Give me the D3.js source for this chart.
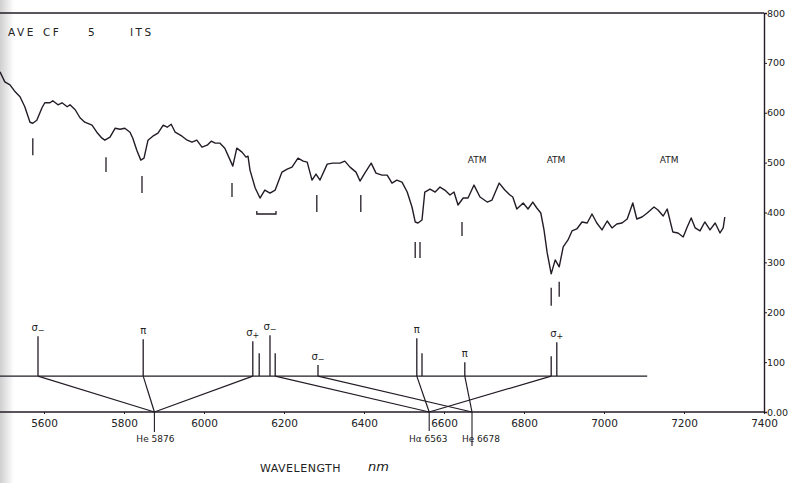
<!DOCTYPE html>
<html>
<head>
<meta charset="utf-8">
<script src="https://cdn.jsdelivr.net/npm/d3@7"></script>
<style>
  body { margin: 0; background: #fff; }
  svg text { font-family: "DejaVu Sans", sans-serif; fill: #222; }
</style>
</head>
<body>
<div id="chart"></div>
<script>
// spectrum trace (wavelength in A, intensity in chart units)
const wavelength = [5490, 5502, 5515, 5528, 5540, 5552, 5565, 5572, 5582, 5595, 5602, 5615, 5622, 5635, 5645, 5658, 5665, 5678, 5690, 5702,
  5720, 5732, 5745, 5752, 5765, 5778, 5790, 5802, 5815, 5822, 5832, 5842, 5850, 5860, 5872, 5885, 5898, 5908, 5918, 5928,
  5945, 5958, 5970, 5982, 5995, 6008, 6018, 6028, 6040, 6052, 6062, 6072, 6082, 6095, 6105, 6110, 6115, 6128, 6140, 6152,
  6165, 6178, 6195, 6208, 6220, 6235, 6248, 6258, 6270, 6280, 6290, 6308, 6322, 6340, 6352, 6365, 6380, 6390, 6402, 6418,
  6430, 6445, 6458, 6470, 6482, 6495, 6508, 6520, 6528, 6535, 6545, 6552, 6565, 6578, 6590, 6602, 6615, 6625, 6635, 6648,
  6660, 6675, 6690, 6708, 6720, 6738, 6752, 6765, 6772, 6782, 6798, 6810, 6822, 6832, 6842, 6850, 6858, 6868, 6878, 6888,
  6898, 6910, 6920, 6932, 6945, 6958, 6970, 6982, 6995, 7008, 7020, 7032, 7045, 7058, 7072, 7082, 7095, 7108, 7125, 7135,
  7148, 7158, 7172, 7185, 7198, 7208, 7218, 7228, 7240, 7252, 7265, 7278, 7290, 7298, 7302];
const intensity = [682, 662, 656, 642, 632, 612, 581, 579, 585, 610, 620, 620, 624, 616, 620, 612, 616, 606, 590, 581,
  575, 561, 549, 545, 551, 569, 567, 569, 561, 549, 525, 505, 509, 545, 553, 559, 575, 571, 577, 561,
  553, 545, 541, 545, 531, 535, 543, 539, 539, 529, 511, 493, 529, 521, 511, 513, 485, 449, 429, 445,
  439, 445, 481, 487, 491, 509, 503, 501, 465, 477, 465, 497, 499, 499, 503, 491, 481, 463, 479, 499,
  479, 475, 475, 459, 465, 461, 441, 411, 381, 379, 385, 441, 447, 441, 451, 445, 435, 441, 415, 429,
  429, 455, 431, 421, 425, 459, 445, 435, 431, 407, 419, 407, 421, 409, 399, 365, 319, 277, 305, 291,
  331, 345, 363, 367, 381, 379, 397, 379, 365, 383, 369, 377, 379, 387, 419, 387, 391, 399, 411, 405,
  393, 407, 361, 359, 351, 371, 389, 369, 363, 381, 365, 379, 359, 369, 391];

// identification marks under the trace
const idLambda = [5572, 5755, 5845, 6070, 6282, 6392, 6528, 6540, 6645, 6868, 6888];
const idTop = [549, 511, 473, 459, 435, 435, 341, 341, 381, 249, 261];
const idBottom = [515, 481, 439, 431, 401, 401, 309, 309, 353, 213, 231];
const blendRange = [6132, 6180];
const blendLevel = 397;

// Zeeman components
const compLambda = [5585, 5848, 6122, 6138, 6165, 6178, 6285, 6532, 6545, 6652, 6868, 6882];
const compTop = [152, 146, 142, 118, 154, 118, 94, 148, 118, 100, 112, 140];
const compLabel = ["σ−", "π", "σ+", "", "σ−", "", "σ−", "π", "", "π", "", "σ+"];
const compBase = 72;

// rest wavelengths and the fans joining them to their components
const restName = ["He 5876", "Hα 6563", "He 6678"];
const restLambda = [5876, 6563, 6670];
const fanComp = [5585, 5848, 6122, 6178, 6532, 6868, 6285, 6652];
const fanRest = [5876, 5876, 5876, 6563, 6563, 6563, 6670, 6670];

const xTicks = [5600, 5800, 6000, 6200, 6400, 6600, 6800, 7000, 7200, 7400];
const yTicks = [0, 100, 200, 300, 400, 500, 600, 700, 800];
const atmLambda = [6683, 6880, 7163];

const W = 800, H = 483;
const ink = "#231c26";

const svg = d3.select("#chart").append("svg").attr("width", W).attr("height", H);

// greyish scan edge on the left
const grad = svg.append("defs").append("linearGradient").attr("id", "edge");
grad.append("stop").attr("offset", "0%").attr("stop-color", "#cfcfcf");
grad.append("stop").attr("offset", "100%").attr("stop-color", "#fff");
svg.append("rect").attr("width", W).attr("height", H).attr("fill", "#fff");
svg.append("rect").attr("width", 14).attr("height", H).attr("fill", "url(#edge)");

let x = d3.scaleLinear().domain([5600, 7400]).range([44, 764]);
let y = d3.scaleLinear().domain([0, 800]).range([412, 13]);

// frame: top line and right axis
svg.append("line").attr("x1", 0).attr("x2", x(7400)).attr("y1", y(800)).attr("y2", y(800))
  .attr("stroke", ink).attr("stroke-width", 1.4);

let yAxis = d3.axisRight(y).tickValues(yTicks).tickSize(3)
  .tickFormat(d => d === 0 ? "0.00" : d);
let ya = svg.append("g").attr("transform", "translate(" + x(7400) + ",0)").call(yAxis);
ya.select(".domain").attr("stroke", ink).attr("stroke-width", 1.4);
ya.selectAll("line").attr("stroke", ink);
ya.selectAll("text").attr("font-size", 9.5).attr("fill", "#333").attr("x", 3);

let xAxis = d3.axisBottom(x).tickValues(xTicks).tickSize(2).tickFormat(d => d);
let xa = svg.append("g").attr("transform", "translate(0," + y(0) + ")").call(xAxis);
xa.select(".domain").attr("d", "M0,0H" + x(7400)).attr("stroke", ink).attr("stroke-width", 1.4);
xa.selectAll("line").attr("stroke", ink);
xa.selectAll("text").attr("font-size", 10.5).attr("fill", "#333").attr("dy", "0.95em");

// spectrum trace
let line = d3.line().x((d, i) => x(wavelength[i])).y(d => y(d));
svg.append("path").attr("d", line(intensity)).attr("fill", "none")
  .attr("stroke", ink).attr("stroke-width", 1.4).attr("stroke-linejoin", "round");

// identification ticks
svg.append("g").selectAll("line").data(idLambda).enter().append("line")
  .attr("x1", d => x(d)).attr("x2", d => x(d))
  .attr("y1", (d, i) => y(idTop[i])).attr("y2", (d, i) => y(idBottom[i]))
  .attr("stroke", ink).attr("stroke-width", 1.3);
let bp = d3.path();
bp.moveTo(x(blendRange[0]), y(blendLevel) - 3);
bp.lineTo(x(blendRange[0]), y(blendLevel));
bp.lineTo(x(blendRange[1]), y(blendLevel));
bp.lineTo(x(blendRange[1]), y(blendLevel) - 3);
svg.append("path").attr("d", bp.toString()).attr("fill", "none").attr("stroke", ink).attr("stroke-width", 1.3);

// ATM labels
svg.append("g").selectAll("text").data(atmLambda).enter().append("text")
  .attr("x", d => x(d)).attr("y", 163).attr("text-anchor", "middle")
  .attr("font-size", 9).text("ATM");

// title
const titleWords = ["AVE", "CF", "5", "ITS"];
const titleX = [8, 43, 88, 130];
svg.append("g").selectAll("text").data(titleWords).enter().append("text")
  .attr("x", (d, i) => titleX[i]).attr("y", 36).attr("font-size", 10.5)
  .attr("letter-spacing", 2.5).text(d => d);

// Zeeman baseline
svg.append("line").attr("x1", 0).attr("x2", x(7108)).attr("y1", y(compBase)).attr("y2", y(compBase))
  .attr("stroke", ink).attr("stroke-width", 1.3);

// component sticks
svg.append("g").selectAll("line").data(compLambda).enter().append("line")
  .attr("x1", d => x(d)).attr("x2", d => x(d))
  .attr("y1", (d, i) => y(compTop[i])).attr("y2", y(compBase))
  .attr("stroke", ink).attr("stroke-width", 1.3);

// component labels
let lab = svg.append("g").selectAll("text").data(compLambda.filter((d, i) => compLabel[i])).enter().append("text")
  .attr("x", d => x(d)).attr("font-size", 10).attr("text-anchor", "middle")
  .attr("y", d => y(compTop[compLambda.indexOf(d)]) - 5);
lab.append("tspan").text(d => compLabel[compLambda.indexOf(d)][0]);
lab.append("tspan").attr("font-size", 8).attr("dy", 2).text(d => compLabel[compLambda.indexOf(d)].slice(1));

// fans from components down to rest wavelengths
svg.append("g").selectAll("line").data(fanComp).enter().append("line")
  .attr("x1", d => x(d)).attr("x2", (d, i) => x(fanRest[i]))
  .attr("y1", y(compBase)).attr("y2", y(0))
  .attr("stroke", ink).attr("stroke-width", 1.2);

// rest line stubs below the axis and their names
const stubEnd = [432, 431, 446];
svg.append("g").selectAll("line").data(restLambda).enter().append("line")
  .attr("x1", d => x(d)).attr("x2", d => x(d))
  .attr("y1", y(0)).attr("y2", (d, i) => stubEnd[i])
  .attr("stroke", ink).attr("stroke-width", 1.1);
const nameShift = [1, -1, 9];
svg.append("g").selectAll("text").data(restName).enter().append("text")
  .attr("x", (d, i) => x(restLambda[i]) + nameShift[i]).attr("y", 442)
  .attr("text-anchor", "middle").attr("font-size", 9).text(d => d);

// axis title
svg.append("text").attr("x", 260).attr("y", 472).attr("font-size", 11).attr("letter-spacing", 0.5).text("WAVELENGTH");
svg.append("text").attr("x", 368).attr("y", 471).attr("font-size", 13)
  .attr("font-style", "italic").attr("font-family", "DejaVu Serif, serif").text("nm");
</script>
</body>
</html>
